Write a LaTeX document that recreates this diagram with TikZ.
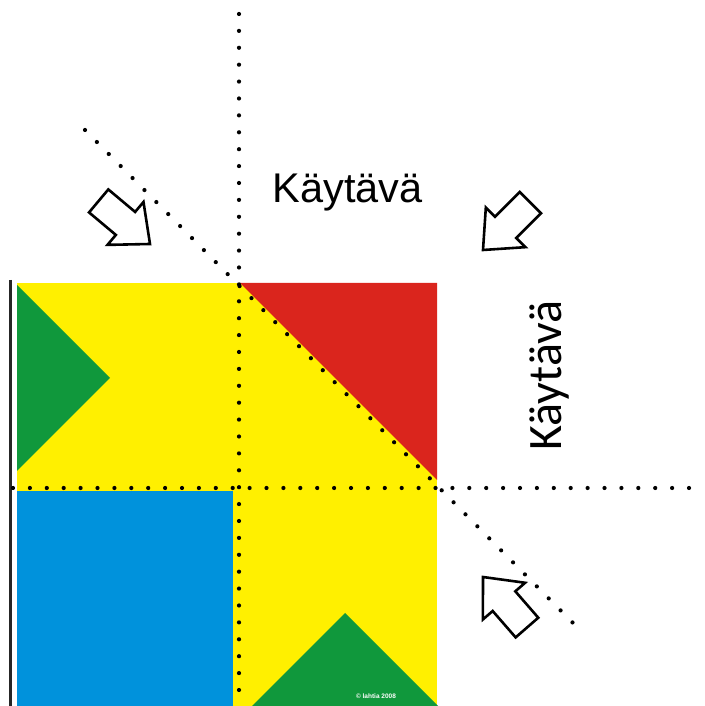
\documentclass[tikz,border=0pt]{standalone}
\usepackage{fontspec}
\setmainfont{Liberation Sans}
\newfontfamily\sidefont{Carlito}
\definecolor{flooryellow}{RGB}{255,240,0}
\definecolor{zonegreen}{RGB}{16,152,60}
\definecolor{zonered}{RGB}{218,37,29}
\definecolor{zoneblue}{RGB}{0,146,220}
\tikzset{
  dotline/.style={line width=4.2pt, line cap=round, dash pattern=on 0pt off 16.9pt},
  hollowarrow/.style={draw=black, fill=white, line width=2.6pt, line join=miter},
  walk/.style={font=\fontsize{41.5}{48}\selectfont, inner sep=0pt, anchor=base}
}
\newcommand{\blockarrow}[3]{% tip x, tip y, direction angle
  \draw[hollowarrow, shift={(#1,#2)}, rotate=#3]
    (0,0) -- (-32,28) -- (-32,15) -- (-67,15) -- (-67,-15) -- (-32,-15) -- (-32,-28) -- cycle;
}
\begin{document}
\begin{tikzpicture}[x=1pt,y=1pt]
  \useasboundingbox (0,0) rectangle (704,706);
  \fill[white] (0,0) rectangle (704,706);

  % floor area
  \fill[flooryellow] (17,0) rectangle (437,423);
  \fill[zonegreen] (17,421) -- (110,328) -- (17,235) -- cycle;
  \fill[zoneblue] (17,0) rectangle (233,215);
  \fill[zonered] (240,423) -- (437,423) -- (437,226) -- cycle;
  \fill[zonegreen] (252,0) -- (345,93) -- (438,0) -- cycle;
  \node[text=white, font=\fontsize{6.5}{7}\selectfont\bfseries, inner sep=0pt] (copy) at (376,10) {© lahtia 2008};

  % wall
  \draw[line width=3pt, black!85] (10,426) -- (10,0);

  % dotted axes
  \coordinate (vtop) at (239,692);
  \coordinate (vbot) at (239,0);
  \coordinate (hleft) at (13,218);
  \coordinate (hright) at (704,218);
  \coordinate (dtop) at (85,576);
  \coordinate (dbot) at (578,78);
  \draw[dotline] (vtop) -- (vbot);
  \draw[dotline] (hleft) -- (hright);
  \draw[dotline] (dtop) -- (dbot);

  % corridor labels
  \node[walk] (corr1) at (347.5,503) {Käytävä};
  \node[walk, font=\fontsize{48}{54}\selectfont\sidefont, rotate=90] (corr2) at (561,330.5) {Käytävä};

  % direction arrows
  \blockarrow{150}{462}{-40}
  \blockarrow{483}{456}{-135}
  \blockarrow{483}{129}{131}
\end{tikzpicture}
\end{document}
